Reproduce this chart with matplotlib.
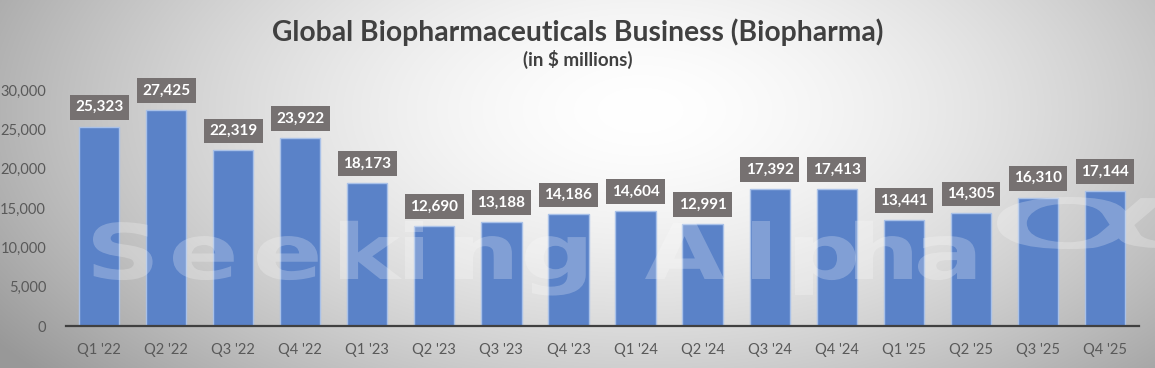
import numpy as np
import matplotlib
matplotlib.use("Agg")
import matplotlib.pyplot as plt
from matplotlib.textpath import TextPath
from matplotlib.patches import PathPatch
from matplotlib.font_manager import FontProperties
from matplotlib.transforms import Affine2D, IdentityTransform

quarters = ["Q1 '22", "Q2 '22", "Q3 '22", "Q4 '22", "Q1 '23", "Q2 '23", "Q3 '23", "Q4 '23",
            "Q1 '24", "Q2 '24", "Q3 '24", "Q4 '24", "Q1 '25", "Q2 '25", "Q3 '25", "Q4 '25"]
revenue = [25323, 27425, 22319, 23922, 18173, 12690, 13188, 14186,
           14604, 12991, 17392, 17413, 13441, 14305, 16310, 17144]
yticks = [0, 5000, 10000, 15000, 20000, 25000, 30000]

plt.rcParams["font.family"] = ["Lato", "DejaVu Sans"]

W, H = 1155, 368
fig = plt.figure(figsize=(W / 100, H / 100), dpi=100)

# radial grey-to-white background
bg = fig.add_axes([0, 0, 1, 1], zorder=-10)
yy, xx = np.mgrid[0:H, 0:W]
r = np.sqrt(((xx - 640) / 620.0) ** 2 + ((yy - 110) / 330.0) ** 2)
shade = 1.0 - 0.28 * np.clip(r, 0, 1.25) ** 1.6
bg.imshow(np.dstack([shade] * 3), aspect="auto", extent=[0, 1, 0, 1], origin="upper")
bg.axis("off")

ax = fig.add_axes([65.5 / W, 1 - 326 / H, (1138.5 - 65.5) / W, (326 - 90) / H])
ax.patch.set_alpha(0)
x = np.arange(len(quarters))
ax.bar(x, revenue, width=0.6, color="#5a82c8", edgecolor="#a9c1e8", linewidth=1, zorder=2)
ax.set_xlim(-0.5, len(quarters) - 0.5)
ax.set_ylim(0, 30000)
ax.set_yticks(yticks)
ax.set_yticklabels([f"{v:,}" for v in yticks])
ax.set_xticks(x)
ax.set_xticklabels(quarters)
ax.tick_params(axis="both", length=0, colors="#595959", labelsize=10.5)
ax.tick_params(axis="x", pad=12)
ax.tick_params(axis="y", pad=14)
for s in ["top", "right", "left"]:
    ax.spines[s].set_visible(False)
ax.spines["bottom"].set_color("#404040")
ax.spines["bottom"].set_linewidth(1.6)
ax.spines["bottom"].set_zorder(4)

for xi, v in zip(x, revenue):
    ax.annotate(f"{v:,}", (xi, v), xytext=(0, 9), textcoords="offset points",
                ha="center", va="bottom", color="white", fontsize=11, fontweight="bold",
                bbox=dict(boxstyle="square,pad=0.35", fc="#767171", ec="none"),
                zorder=6, annotation_clip=False)

# watermark, letter by letter, stretched sideways (pixel x of each letter's left edge)
wm_letters = list("SeekingAlpha")
wm_left = [93, 173, 257, 340, 405, 455, 525, 645, 752, 795, 855, 918]
wm_font = FontProperties(family="DejaVu Sans", weight="semibold")
cap = TextPath((0, 0), "S", size=1, prop=wm_font).get_extents().height
for ch, lx in zip(wm_letters, wm_left):
    p = TextPath((0, 0), ch, size=1, prop=wm_font)
    e = p.get_extents()
    s = 58 / cap
    tr = Affine2D().translate(-e.x0, 0).scale(s * 1.35, s).translate(lx, H - 279)
    fig.add_artist(PathPatch(tr.transform_path(p), transform=IdentityTransform(),
                             fc="white", ec="none", alpha=0.24, zorder=3))

# stretched alpha symbol
ap = TextPath((0, 0), "α", size=1, prop=FontProperties(family="DejaVu Sans"))
ext = ap.get_extents()
tr = (Affine2D().translate(-ext.x0, -ext.y0)
      .scale(175 / ext.width, 52 / ext.height)
      .translate(997, H - 249))
fig.add_artist(PathPatch(tr.transform_path(ap), transform=IdentityTransform(),
                         fc="white", ec="none", alpha=0.24, zorder=3))

fig.text(0.5, 1 - 32 / H, "Global Biopharmaceuticals Business (Biopharma)", ha="center",
         va="center", fontsize=20.3, fontweight="bold", color="#404040")
fig.text(0.5, 1 - 59 / H, "(in $ millions)", ha="center", va="center",
         fontsize=13.5, fontweight="bold", color="#404040")

fig.savefig("out.png", dpi=100)
